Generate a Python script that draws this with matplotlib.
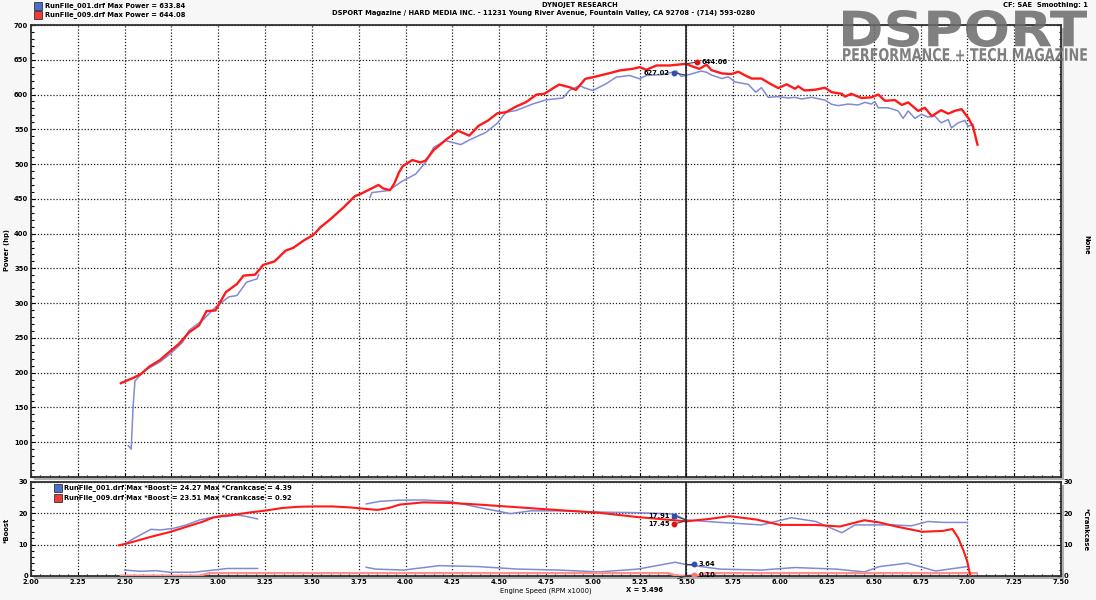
import numpy as np
import matplotlib
matplotlib.use("Agg")
import matplotlib.pyplot as plt
from matplotlib.patches import Rectangle, PathPatch
from matplotlib.textpath import TextPath
from matplotlib.font_manager import FontProperties
from matplotlib.transforms import Affine2D
from matplotlib.ticker import MultipleLocator

plt.rcParams['font.family'] = ['DejaVu Sans']
plt.rcParams['font.weight'] = 'bold'

NAN = np.nan

# run 001 (blue) power, rpm x1000 / hp
rpm_pow_001 = [2.52, 2.535, 2.545, 2.555, 2.606, 2.686, 2.748, 2.81, 2.844, 2.915, 2.985, 3.056,
               3.10, 3.15, 3.207, 3.216, NAN, 3.81, 3.82, 3.91, 3.98, 4.054, 4.107, 4.15, 4.214,
               4.295, 4.34, 4.43, 4.49, 4.536, 4.59, 4.68, 4.75, 4.84, 4.875, 4.93, 4.955, 5.0,
               5.07, 5.125, 5.196, 5.25, 5.286, 5.375, 5.446, 5.473, 5.518, 5.58, 5.607, 5.634,
               5.69, 5.723, 5.76, 5.83, 5.87, 5.90, 5.937, 5.99, 6.044, 6.08, 6.115, 6.168, 6.24,
               6.275, 6.31, 6.363, 6.417, 6.453, 6.488, 6.506, 6.524, 6.577, 6.63, 6.657, 6.684,
               6.72, 6.755, 6.79, 6.826, 6.86, 6.898, 6.915, 6.95, 6.987, 7.004, 7.03]
hp_001 = [95, 90, 150, 188, 203, 215, 228, 244, 261, 275, 294, 309,
          311, 330, 335, 341, NAN, 452, 459, 462, 475, 485.6, 502.4, 524, 533.7,
          528, 534.6, 545.7, 558.7, 574.5, 577, 586.5, 592.3, 595, 605.8, 613, 609.6, 605.8,
          615.4, 625, 627.4, 622.6, 627.4, 628.8, 633.8, 626, 629, 633.8, 632, 628,
          623, 625.5, 618, 614.7, 603.4, 609.8, 596, 597, 595, 596, 593.6, 596, 592,
          586, 584, 586.3, 585, 588.7, 586.3, 590, 581, 581, 576.5, 565.7, 576.5,
          565.7, 571.6, 567.6, 569, 559.3, 564, 552, 559.3, 562.7, 554.4, 557]

# run 009 (red) power
rpm_pow_009 = [2.48, 2.55, 2.59, 2.633, 2.686, 2.748, 2.79, 2.844, 2.897, 2.937, 2.985, 3.04,
               3.10, 3.135, 3.197, 3.24, 3.30, 3.36, 3.40, 3.456, 3.51, 3.545, 3.60, 3.67, 3.73,
               3.757, 3.856, 3.88, 3.917, 3.94, 3.965, 3.985, 4.036, 4.08, 4.107, 4.15, 4.214,
               4.28, 4.34, 4.39, 4.44, 4.49, 4.536, 4.59, 4.643, 4.70, 4.74, 4.82, 4.875, 4.91,
               4.96, 5.018, 5.09, 5.143, 5.214, 5.25, 5.286, 5.34, 5.41, 5.496, 5.536, 5.57,
               5.607, 5.634, 5.69, 5.74, 5.777, 5.81, 5.848, 5.90, 5.946, 5.99, 6.035, 6.08,
               6.097, 6.13, 6.186, 6.24, 6.275, 6.33, 6.346, 6.38, 6.435, 6.488, 6.524, 6.56,
               6.613, 6.65, 6.684, 6.737, 6.773, 6.81, 6.86, 6.898, 6.933, 6.969, 7.004, 7.03, 7.054]
hp_009 = [185, 193, 198.6, 209, 217.7, 232, 241.5, 258, 268, 288.5, 289.5, 315.7,
          327.6, 339.6, 341, 355, 360, 375.6, 379.5, 390, 398.6, 409, 421, 438, 454,
          456.7, 470, 465, 462.5, 472, 488, 497, 505.8, 502.4, 505, 520, 534.6,
          548, 540.9, 555, 562.5, 573, 574.5, 582.7, 589, 600, 601, 614.4, 610.6, 606.7,
          622.6, 626, 630.8, 634.6, 637, 639.4, 635.6, 641.8, 641.8, 644.1, 640, 637,
          643, 635, 630.4, 629.4, 632.8, 628, 623, 623, 615.7, 609.3, 614.7, 608.3,
          611.8, 605.9, 606.9, 609.8, 603.4, 601, 597, 601, 595, 596, 600, 591,
          592, 585, 588.7, 576.5, 581, 569, 577.5, 572.5, 576.5, 579, 566.7, 554, 528]

# boost (psi)
rpm_bst_001 = [2.505, 2.55, 2.64, 2.69, 2.76, 2.83, 2.90, 2.975, 3.046, 3.1, 3.15, 3.21, NAN,
               3.79, 3.86, 3.96, 4.095, 4.24, 4.39, 4.56, 4.67, 4.82, 5.03, 5.24, 5.43, 5.5,
               5.68, 5.9, 6.06, 6.19, 6.33, 6.4, 6.6, 6.7, 6.79, 6.87, 7.0]
bst_001 = [10.4, 12, 14.9, 14.7, 15.2, 16.3, 17.9, 18.8, 19.0, 19.5, 19, 18.2, NAN,
           23, 23.8, 24.2, 24.27, 23.8, 21.9, 19.9, 20.8, 20.8, 20.4, 20.2, 19.8, 17.9,
           17.1, 16.3, 18.6, 17.4, 13.8, 16.3, 16.3, 16, 17.4, 17.1, 17.1]
rpm_bst_009 = [2.47, 2.514, 2.64, 2.745, 2.83, 2.92, 2.97, 3.02, 3.08, 3.17, 3.255, 3.34, 3.43,
               3.52, 3.61, 3.70, 3.79, 3.85, 3.91, 3.97, 4.095, 4.24, 4.39, 4.56, 4.75, 5.03,
               5.24, 5.5, 5.62, 5.73, 5.875, 6.0, 6.19, 6.32, 6.45, 6.53, 6.62, 6.76, 6.87,
               6.92, 6.95, 6.98, 7.0, 7.015]
bst_009 = [9.8, 10.4, 12.5, 14.1, 15.7, 17.4, 18.6, 19.2, 19.5, 20.3, 20.9, 21.7, 22.1,
           22.2, 22.2, 21.9, 21.4, 21.1, 21.7, 22.8, 23.5, 23.3, 22.8, 22.1, 21.3, 20.2,
           18.8, 17.45, 18.2, 19.1, 18.0, 16.3, 16.3, 15.8, 17.8, 17.1, 15.8, 14.1, 14.4,
           15.0, 12.3, 8.0, 4.5, 0.3]

# crankcase
rpm_cc_001 = [2.5, 2.58, 2.67, 2.74, 2.87, 2.975, 3.05, 3.21, NAN, 3.79, 3.84, 3.99, 4.18,
              4.39, 4.6, 4.82, 5.03, 5.24, 5.44, 5.5, 5.68, 5.9, 6.08, 6.3, 6.45, 6.53, 6.68,
              6.83, 7.0]
cc_001 = [1.9, 1.5, 1.7, 1.2, 1.2, 1.9, 2.4, 2.4, NAN, 2.8, 2.2, 1.9, 3.3,
          3.0, 2.2, 1.9, 1.3, 2.2, 4.39, 3.64, 2.2, 1.9, 2.7, 2.2, 1.3, 3.0, 4.1,
          1.6, 3.0]
rpm_cc_009 = [2.48, 2.9, 2.95, 3.5, 4.0, 4.5, 5.0, 5.4, 5.45, 5.55, 5.6, 6.0, 6.5, 7.05]
cc_009 = [0.1, 0.1, 0.92, 0.92, 0.92, 0.92, 0.92, 0.92, 0.1, 0.1, 0.92, 0.92, 0.92, 0.92]

cursor_x = 5.496
legend_top = ["RunFile_001.drf Max Power = 633.84", "RunFile_009.drf Max Power = 644.08"]
legend_bot = ["RunFile_001.drf Max *Boost = 24.27 Max *Crankcase = 4.39",
              "RunFile_009.drf Max *Boost = 23.51 Max *Crankcase = 0.92"]

BLUE = '#7f8bd4'
RED = '#ff1a1a'
PINK = '#ff9090'
FS = 4.9

W, H = 1096, 600
fig = plt.figure(figsize=(W / 100, H / 100), dpi=100, facecolor='#f7f7f7')


def px(l, t, r, b):
    return [l / W, 1 - b / H, (r - l) / W, (b - t) / H]


ax1 = fig.add_axes(px(31, 25, 1061, 477))
ax2 = fig.add_axes(px(31, 482, 1061, 576), sharex=ax1)

# drop shadows behind the frames
for (l, t, r, b) in [(31, 25, 1061, 477), (31, 482, 1061, 576)]:
    fig.patches.append(Rectangle(((l + 3) / W, 1 - (b + 3) / H), (r - l) / W, (b - t) / H,
                                 transform=fig.transFigure, facecolor='#b0b0b0',
                                 edgecolor='none', zorder=0))

for ax in (ax1, ax2):
    ax.set_facecolor('white')
    ax.set_zorder(1)
    for s in ax.spines.values():
        s.set_linewidth(1.3)
        s.set_color('#303030')
    ax.xaxis.set_major_locator(MultipleLocator(0.25))
    ax.xaxis.set_minor_locator(MultipleLocator(0.05))
    ax.grid(True, which='major', linestyle=(0, (1, 1.5)), color='#202020', linewidth=0.9)
    ax.tick_params(which='both', direction='in', top=False, right=True,
                   labelsize=FS, length=3, width=0.8, pad=2)
    ax.tick_params(which='minor', length=1.8)

ax1.plot(rpm_pow_001, hp_001, color=BLUE, lw=1.1, zorder=3)
ax1.plot(rpm_pow_009, hp_009, color=RED, lw=1.7, zorder=4)
ax1.set_xlim(2.0, 7.5)
ax1.set_ylim(50, 700)
ax1.yaxis.set_minor_locator(MultipleLocator(10))
ax1.set_yticks([100, 150, 200, 250, 300, 350, 400, 450, 500, 550, 600, 650, 700])
ax1.tick_params(labelbottom=False)

ax2.plot(rpm_bst_001, bst_001, color=BLUE, lw=1.1, zorder=3)
ax2.plot(rpm_cc_001, cc_001, color=BLUE, lw=1.1, zorder=3)
ax2.plot(rpm_cc_009, cc_009, color=PINK, lw=1.7, zorder=3)
ax2.plot(rpm_bst_009, bst_009, color=RED, lw=1.5, zorder=4)
ax2.set_ylim(0, 30)
ax2.set_yticks([0, 10, 20, 30])
ax2.yaxis.set_minor_locator(MultipleLocator(2))
ax2.tick_params(labelright=True)
ax2.set_xticks(np.arange(2.0, 7.51, 0.25))
ax2.set_xticklabels(['%.2f' % v for v in np.arange(2.0, 7.51, 0.25)])
ax2.set_xlabel('Engine Speed (RPM x1000)', fontsize=FS, labelpad=2)

# axis titles
fig.text(7 / W, 1 - 250 / H, 'Power (hp)', fontsize=FS, rotation=90, ha='center', va='center')
fig.text(7 / W, 1 - 530 / H, '*Boost', fontsize=FS, rotation=90, ha='center', va='center')
fig.text(1086 / W, 1 - 245 / H, 'None', fontsize=FS, rotation=-90, ha='center', va='center')
fig.text(1086 / W, 1 - 530 / H, '*Crankcase', fontsize=FS, rotation=-90,
         ha='center', va='center')

# cursor
for ax in (ax1, ax2):
    ax.axvline(cursor_x, color='#101010', lw=1.1, zorder=5)


def callout(ax, yv, xd, yd, text, color, marker, side):
    ax.plot([cursor_x, xd], [yv, yd], color='#404040', lw=0.8, zorder=6)
    ax.plot([xd], [yd], marker=marker, color=color, ms=3.2, zorder=7)
    off = 0.025 if side == 'right' else -0.025
    ax.text(xd + off, yd, text, fontsize=FS, ha='left' if side == 'right' else 'right',
            va='center', zorder=7)


callout(ax1, 644.1, 5.558, 646.8, '644.06', '#e01010', 'o', 'right')
callout(ax1, 628.0, 5.435, 631.0, '627.02', '#3050b0', 'o', 'left')
callout(ax2, 17.9, 5.435, 19.2, '17.91', '#3050b0', 's', 'left')
callout(ax2, 17.6, 5.435, 16.6, '17.45', '#e01010', 'o', 'left')
callout(ax2, 3.64, 5.54, 3.7, '3.64', '#3050b0', 'o', 'right')
callout(ax2, 0.10, 5.54, 0.25, '0.10', '#ff7070', 'o', 'right')
ax2.annotate('X = 5.496', xy=(cursor_x, 0), xycoords='data',
             xytext=(645 / W, 1 - 590 / H), textcoords='figure fraction',
             fontsize=FS, ha='center', va='center',
             arrowprops=dict(arrowstyle='-', color='#404040', lw=0.8,
                             shrinkA=12, shrinkB=0))

# header
fig.text(580 / W, 1 - 5 / H, 'DYNOJET RESEARCH', fontsize=FS, ha='center', va='center')
fig.text(544 / W, 1 - 13.5 / H,
         'DSPORT Magazine / HARD MEDIA INC. - 11231 Young River Avenue, '
         'Fountain Valley, CA 92708 - (714) 593-0280', fontsize=FS, ha='center', va='center')
fig.text(1088 / W, 1 - 5 / H, 'CF: SAE  Smoothing: 1', fontsize=FS, ha='right', va='center',
         zorder=12)

for i, (txt, col) in enumerate(zip(legend_top, ['#4a6fc8', '#f03a3a'])):
    y = 6 + i * 9
    fig.patches.append(Rectangle((34 / W, 1 - (y + 4) / H), 8 / W, 8 / H,
                                 transform=fig.transFigure, facecolor=col,
                                 edgecolor='#333333', lw=0.6, zorder=2))
    fig.text(45 / W, 1 - y / H, txt, fontsize=FS, ha='left', va='center')

for i, (txt, col) in enumerate(zip(legend_bot, ['#4a6fc8', '#f03a3a'])):
    y = 488 + i * 9.5
    fig.patches.append(Rectangle((54 / W, 1 - (y + 4) / H), 8 / W, 8 / H,
                                 transform=fig.transFigure, facecolor=col,
                                 edgecolor='#333333', lw=0.6, zorder=3))
    fig.text(64 / W, 1 - y / H, txt, fontsize=FS, ha='left', va='center', zorder=3)


# magazine logo, text outlines stretched to fit the box they take in the picture
def logo_text(s, l, t, r, b):
    tp = TextPath((0, 0), s, size=1, prop=FontProperties(family='DejaVu Sans', weight='bold'))
    bb = tp.get_extents()
    tr = (Affine2D().translate(-bb.x0, -bb.y0)
          .scale((r - l) / W / bb.width, (b - t) / H / bb.height)
          .translate(l / W, 1 - b / H))
    fig.patches.append(PathPatch(tr.transform_path(tp), transform=fig.transFigure,
                                 facecolor='#6a6a6a', edgecolor='none', alpha=0.85, zorder=10))


logo_text('DSPORT', 843, 10, 1087, 47)
logo_text('PERFORMANCE + TECH MAGAZINE', 843, 48, 1087, 61)

fig.savefig('out.png', dpi=100, facecolor=fig.get_facecolor())
